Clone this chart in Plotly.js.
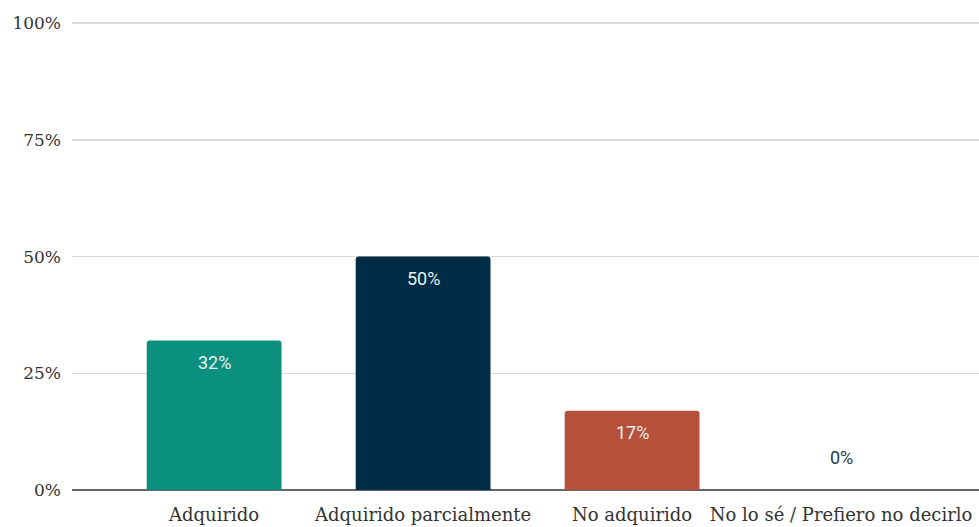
<!DOCTYPE html>
<html>
<head>
<meta charset="utf-8">
<script src="https://cdn.plot.ly/plotly-3.0.1.min.js"></script>
<style>html,body{margin:0;padding:0;background:#fff;}#chart{width:979px;height:527px;}</style>
</head>
<body>
<div id="chart"></div>
<script>
const categories = ["Adquirido", "Adquirido parcialmente", "No adquirido", "No lo sé / Prefiero no decirlo"];
const values = [32, 50, 17, 0];
const barColors = ["#0b8f7f", "#012c45", "#b5503a", "#9e9e9e"];
const tickVals = [0, 25, 50, 75, 100];
const tickText = ["0%", "25%", "50%", "75%", "100%"];

const trace = {
  type: "bar",
  x: categories,
  y: values,
  marker: {color: barColors},
  width: 0.645,
  hoverinfo: "skip"
};

const annotations = categories.map((c, i) => ({
  x: c,
  y: values[i],
  xref: "x",
  yref: "y",
  text: values[i] + "%",
  showarrow: false,
  yanchor: "middle",
  yshift: values[i] > 0 ? -22 : 33,
  font: {family: "Roboto, sans-serif", size: 18, color: values[i] > 0 ? "#e6f1f0" : "#1f3a4d"}
}));

const layout = {
  width: 979,
  height: 527,
  margin: {l: 72, r: 0, t: 22, b: 37},
  paper_bgcolor: "#fff",
  plot_bgcolor: "#fff",
  showlegend: false,
  barcornerradius: 3,
  xaxis: {
    type: "category",
    range: [-0.68, 3.66],
    showgrid: false,
    zeroline: false,
    showline: false,
    ticks: "",
    ticklabelstandoff: 12,
    tickfont: {family: "DejaVu Serif, serif", size: 18, color: "#333"},
    fixedrange: true
  },
  yaxis: {
    range: [0, 100.25],
    tickvals: tickVals,
    ticktext: tickText,
    showgrid: true,
    gridcolor: "#d9d9d9",
    gridwidth: 1.5,
    zeroline: true,
    zerolinecolor: "#666",
    zerolinewidth: 1.5,
    ticks: "",
    ticklabelstandoff: 10,
    tickfont: {family: "DejaVu Serif, serif", size: 17, color: "#333"},
    fixedrange: true
  },
  annotations: annotations
};

Plotly.newPlot("chart", [trace], layout, {displayModeBar: false, staticPlot: true});
</script>
</body>
</html>
